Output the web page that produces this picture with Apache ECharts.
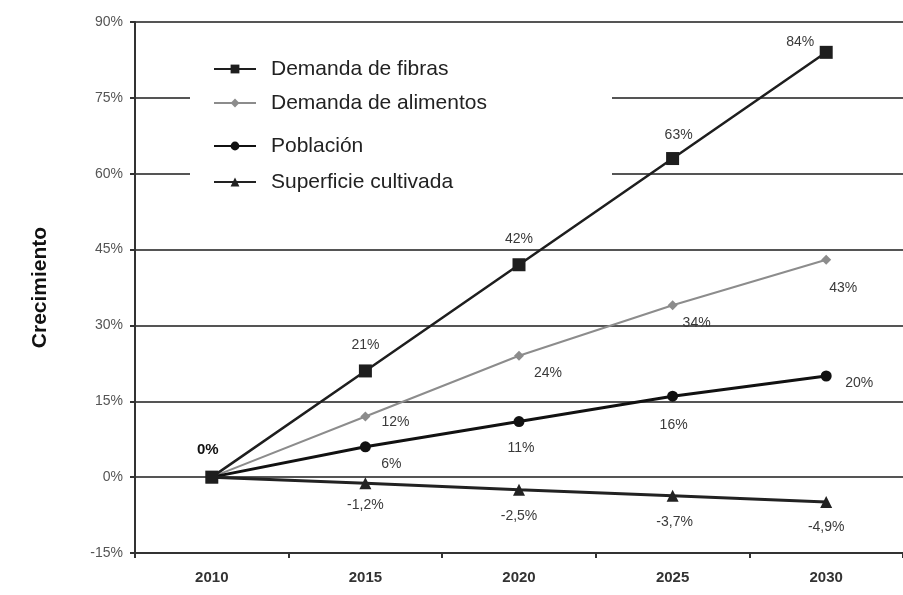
<!DOCTYPE html>
<html>
<head>
<meta charset="utf-8">
<script src="https://cdn.jsdelivr.net/npm/echarts@6/dist/echarts.min.js"></script>
<style>
  html, body { margin: 0; padding: 0; background: #fff; }
  #chart { width: 903px; height: 595px; }
</style>
</head>
<body>
<div id="chart"></div>
<script>
// Categories (years) and growth values (%) per series
const years = ['2010', '2015', '2020', '2025', '2030'];
const fibras = [0, 21, 42, 63, 84];
const alimentos = [0, 12, 24, 34, 43];
const poblacion = [0, 6, 11, 16, 20];
const superficie = [0, -1.2, -2.5, -3.7, -4.9];
const seriesNames = ['Demanda de fibras', 'Demanda de alimentos', 'Población', 'Superficie cultivada'];

// Label offsets (px from the point) for each series, index by year
const fibrasOffsets = [[-4, -27], [0, -26], [0, -26], [6, -23], [-26, -10]];
const alimentosOffsets = [null, [30, 6], [29, 17], [24, 18], [17, 28]];
const poblacionOffsets = [null, [26, 17], [2, 27], [1, 29], [33, 7]];
const superficieOffsets = [null, [0, 22], [0, 26], [2, 26], [0, 25]];

const FONT = 'Liberation Sans, Arial, sans-serif';
const fmt = v => String(v).replace('.', ',') + '%';

function buildData(values, offsets, boldFirst) {
  return values.map((v, i) => {
    const off = offsets[i];
    if (!off) return { value: v, label: { show: false } };
    const lbl = { show: true, position: 'inside', offset: off };
    if (boldFirst && i === 0) {
      lbl.fontWeight = 'bold';
      lbl.color = '#111';
      lbl.fontSize = 15;
    }
    return { value: v, label: lbl };
  });
}

const labelBase = {
  show: true,
  formatter: p => fmt(p.value),
  color: '#3a3a3a',
  fontSize: 14,
  fontFamily: FONT
};

const chart = echarts.init(document.getElementById('chart'));

// One legend per row so the rows can sit at their own heights
const legendRows = [52, 86, 129, 165];
const legends = seriesNames.map((name, i) => ({
  data: [name],
  left: 208,
  top: legendRows[i],
  orient: 'vertical',
  itemWidth: 42,
  itemHeight: 11,
  selectedMode: false,
  textStyle: {
    fontSize: 21,
    fontFamily: FONT,
    color: '#222',
    padding: [0, 0, 0, 10],
    lineHeight: 24
  }
}));

chart.setOption({
  backgroundColor: '#fff',
  animation: false,
  textStyle: { fontFamily: FONT },
  graphic: [{
    type: 'rect',
    z: 1,
    shape: { x: 190, y: 40, width: 422, height: 158 },
    style: { fill: '#fff' }
  }],
  legend: legends,
  grid: { left: 135, top: 22, width: 780, height: 531 },
  xAxis: {
    type: 'category',
    data: years,
    boundaryGap: true,
    axisLine: { onZero: false, lineStyle: { color: '#333', width: 2 } },
    axisTick: { show: true, length: 5, lineStyle: { color: '#333', width: 2 } },
    axisLabel: { color: '#333', fontSize: 15, fontWeight: 'bold', margin: 17, fontFamily: FONT }
  },
  yAxis: {
    type: 'value',
    min: -15,
    max: 90,
    interval: 15,
    name: 'Crecimiento',
    nameLocation: 'middle',
    nameGap: 84,
    nameTextStyle: { fontSize: 21, fontWeight: 'bold', color: '#111', fontFamily: FONT },
    axisLine: { show: true, lineStyle: { color: '#333', width: 2 } },
    axisTick: { show: true, length: 5, lineStyle: { color: '#333', width: 2 } },
    axisLabel: { formatter: '{value}%', color: '#555', fontSize: 14, margin: 12, fontFamily: FONT },
    splitLine: { show: true, lineStyle: { color: '#555', width: 2 } }
  },
  series: [
    {
      name: seriesNames[0],
      type: 'line',
      z: 6,
      data: buildData(fibras, fibrasOffsets, true),
      symbol: 'rect',
      symbolSize: 13,
      itemStyle: { color: '#1e1e1e' },
      lineStyle: { color: '#1e1e1e', width: 2.5 },
      label: labelBase
    },
    {
      name: seriesNames[1],
      type: 'line',
      z: 3,
      data: buildData(alimentos, alimentosOffsets, false),
      symbol: 'diamond',
      symbolSize: 10,
      itemStyle: { color: '#8c8c8c' },
      lineStyle: { color: '#8c8c8c', width: 2 },
      label: labelBase
    },
    {
      name: seriesNames[2],
      type: 'line',
      z: 4,
      data: buildData(poblacion, poblacionOffsets, false),
      symbol: 'circle',
      symbolSize: 11,
      itemStyle: { color: '#111' },
      lineStyle: { color: '#111', width: 3 },
      label: labelBase
    },
    {
      name: seriesNames[3],
      type: 'line',
      z: 5,
      data: buildData(superficie, superficieOffsets, false),
      symbol: 'triangle',
      symbolSize: 12,
      itemStyle: { color: '#222' },
      lineStyle: { color: '#222', width: 3 },
      label: labelBase
    }
  ]
});
</script>
</body>
</html>
